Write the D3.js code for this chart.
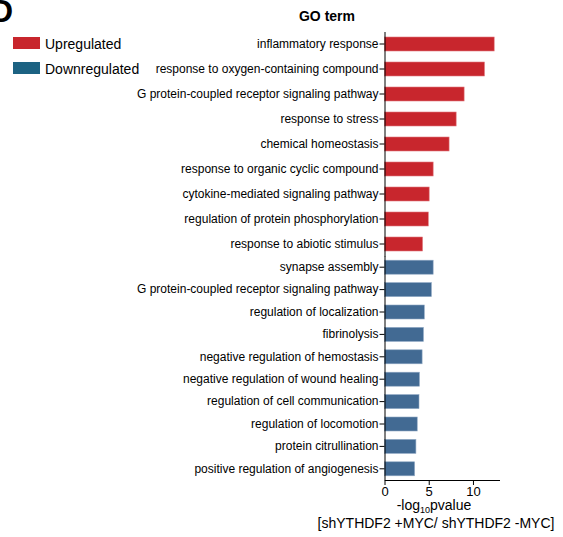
<!DOCTYPE html>
<html>
<head>
<meta charset="utf-8">
<script src="https://cdn.jsdelivr.net/npm/d3@7"></script>
<style>
  html, body { margin: 0; padding: 0; background: #fff; }
  svg { display: block; font-family: "Liberation Sans", Arial, sans-serif; }
</style>
</head>
<body>
<svg id="chart" width="563" height="537"></svg>
<script>
// GO terms, top to bottom
const upTerms = [
  "inflammatory response",
  "response to oxygen-containing compound",
  "G protein-coupled receptor signaling pathway",
  "response to stress",
  "chemical homeostasis",
  "response to organic cyclic compound",
  "cytokine-mediated signaling pathway",
  "regulation of protein phosphorylation",
  "response to abiotic stimulus"
];
const upValues = [12.4, 11.3, 9.0, 8.1, 7.3, 5.5, 5.05, 4.95, 4.3];

const downTerms = [
  "synapse assembly",
  "G protein-coupled receptor signaling pathway",
  "regulation of localization",
  "fibrinolysis",
  "negative regulation of hemostasis",
  "negative regulation of wound healing",
  "regulation of cell communication",
  "regulation of locomotion",
  "protein citrullination",
  "positive regulation of angiogenesis"
];
const downValues = [5.5, 5.3, 4.5, 4.4, 4.25, 3.95, 3.9, 3.7, 3.55, 3.4];

const xTicks = [0, 5, 10];
const legendLabels = ["Upregulated", "Downregulated"];

const upColor = "#c8262d";
const downColor = "#426a93";
const legendColors = [upColor, "#1c6282"];

const svg = d3.select("#chart");
const plotLeft = 384.5, plotRight = 499.5, plotBottom = 480;

const x = d3.scaleLinear().domain([0, 13]).range([plotLeft, plotRight]);

// the two panels are stacked, each with its own row spacing
const groups = [
  { terms: upTerms, values: upValues, color: upColor, edge: "#e07a7f", range: [31.5, 256.5], pad: 0.44 },
  { terms: downTerms, values: downValues, color: downColor, edge: "#8fa8c3", range: [256, plotBottom], pad: 0.375 }
];

groups.forEach(g => {
  const keys = g.terms.map((t, i) => i);
  const y = d3.scaleBand().domain(keys).range(g.range)
    .paddingInner(g.pad).paddingOuter(g.pad / 2);

  svg.append("g").selectAll("rect").data(keys).join("rect")
    .attr("x", x(0))
    .attr("y", i => y(i))
    .attr("width", i => x(g.values[i]) - x(0))
    .attr("height", y.bandwidth())
    .attr("fill", g.color)
    .attr("stroke", g.edge)
    .attr("stroke-width", 0.6);

  const ax = svg.append("g")
    .attr("transform", `translate(${plotLeft},0)`)
    .call(d3.axisLeft(y).tickSize(5).tickSizeOuter(0).tickPadding(1).tickFormat(i => g.terms[i]));
  ax.selectAll("text").attr("font-size", 12).attr("fill", "#000")
    .attr("font-family", "Liberation Sans, Arial, sans-serif");
  ax.selectAll("line").attr("stroke", "#000");
  ax.select(".domain").attr("stroke", "#000");
});

// x axis
const xAxis = svg.append("g")
  .attr("transform", `translate(0,${plotBottom})`)
  .call(d3.axisBottom(x).tickValues(xTicks).tickSize(5).tickSizeOuter(0).tickPadding(2));
xAxis.selectAll("text").attr("font-size", 13).attr("fill", "#000")
  .attr("font-family", "Liberation Sans, Arial, sans-serif");
xAxis.selectAll("line").attr("stroke", "#000");
xAxis.select(".domain").attr("stroke", "#000");

// x axis title
const xt = svg.append("text")
  .attr("x", 434).attr("y", 510)
  .attr("text-anchor", "middle").attr("font-size", 14);
xt.append("tspan").text("-log");
xt.append("tspan").attr("font-size", 9).attr("dy", 3).text("10");
xt.append("tspan").attr("dy", -3).text("pvalue");
svg.append("text")
  .attr("x", 436).attr("y", 528)
  .attr("text-anchor", "middle").attr("font-size", 14)
  .text("[shYTHDF2 +MYC/ shYTHDF2 -MYC]");

// header
svg.append("text")
  .attr("x", 327).attr("y", 21)
  .attr("text-anchor", "middle").attr("font-size", 14).attr("font-weight", "bold")
  .text("GO term");

// panel letter
svg.append("text")
  .attr("x", -10).attr("y", 22)
  .attr("font-size", 32).attr("font-weight", "bold")
  .text("D");

// legend
const lg = svg.append("g").selectAll("g").data(legendLabels).join("g")
  .attr("transform", (d, i) => `translate(13,${37 + i * 25})`);
lg.append("rect").attr("width", 27).attr("height", 12).attr("fill", (d, i) => legendColors[i]);
lg.append("text").attr("x", 32).attr("y", 11.5).attr("font-size", 14).text(d => d);
</script>
</body>
</html>
